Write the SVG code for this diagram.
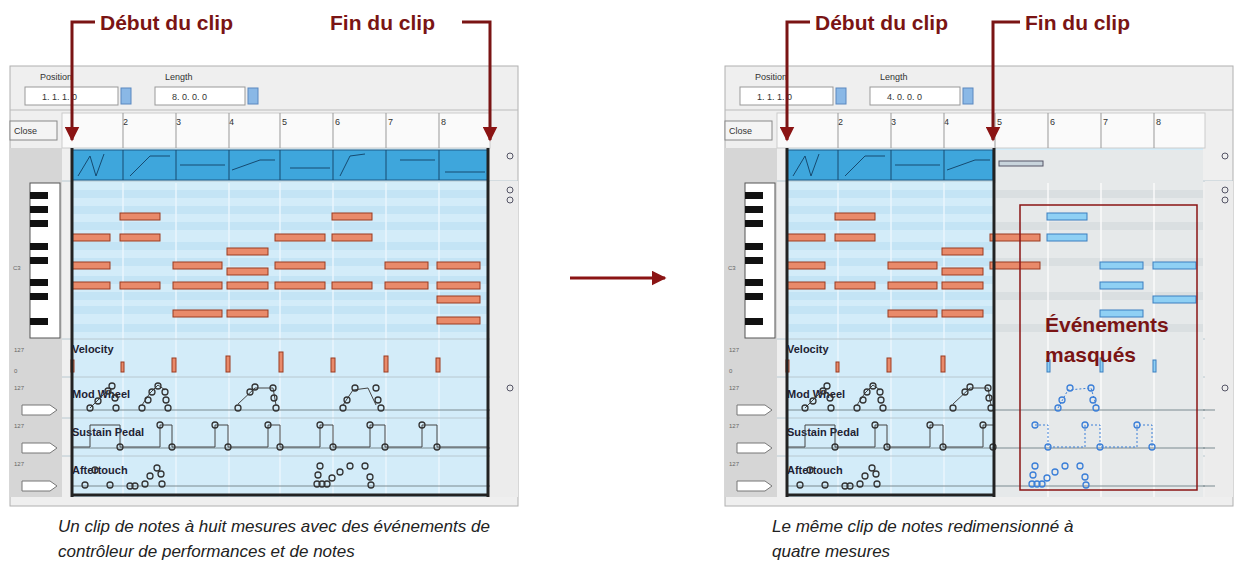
<svg xmlns="http://www.w3.org/2000/svg" width="1243" height="574" viewBox="0 0 1243 574">
<style>
.lbl{font-family:"Liberation Sans",Arial,sans-serif;font-weight:bold;font-size:21px;fill:#7a1414}
.cap{font-family:"Liberation Sans",Arial,sans-serif;font-style:italic;font-size:17px;fill:#222}
.ui{font-family:"Liberation Sans",Arial,sans-serif;font-size:9px;fill:#333}
.lane{font-family:"Liberation Sans",Arial,sans-serif;font-size:11px;fill:#223;font-weight:bold}
.tiny{font-family:"Liberation Sans",Arial,sans-serif;font-size:6px;fill:#666}
.ar{fill:none;stroke:#7a1414;stroke-width:3}
.n{fill:#e98a6a;stroke:#9a3a20;stroke-width:1}
.nb{fill:#8fd0f4;stroke:#3a7fc0;stroke-width:1}
.pt{fill:none;stroke:#333;stroke-width:1.3}
.pb{fill:none;stroke:#3b7fd8;stroke-width:1.3}
.cl{fill:none;stroke:#444;stroke-width:1}
.cb{fill:none;stroke:#3b7fd8;stroke-width:1;stroke-dasharray:2 2}
.edge{stroke:#222;stroke-width:3}
</style>
<defs>
<marker id="ah" viewBox="0 0 10 10" refX="5" refY="10" markerWidth="4" markerHeight="4" orient="auto-start-reverse" markerUnits="strokeWidth"><path d="M0,0 L10,0 L5,10 Z" fill="#7a1414" transform="rotate(-90 5 5)"/></marker>
<marker id="ah2" viewBox="0 0 10 10" refX="9" refY="5" markerWidth="5" markerHeight="5" orient="auto" markerUnits="strokeWidth"><path d="M0,0 L10,5 L0,10 Z" fill="#8b1414"/></marker>
<g id="chrome">
<rect x="10" y="66" width="508" height="440" fill="#efefef" stroke="#b0b0b0"/>
<line x1="10" y1="110" x2="518" y2="110" stroke="#bbb"/>
<rect x="72" y="148" width="416" height="349" fill="#d3ecf9"/>
<g fill="#c4e4f5"><rect x="72" y="190" width="416" height="8"/><rect x="72" y="206" width="416" height="8"/><rect x="72" y="222" width="416" height="8"/><rect x="72" y="242" width="416" height="8"/><rect x="72" y="258" width="416" height="8"/><rect x="72" y="276" width="416" height="8"/><rect x="72" y="292" width="416" height="8"/><rect x="72" y="306" width="416" height="8"/><rect x="72" y="324" width="416" height="8"/></g>
<g stroke="#eaf6fd" stroke-width="1.5"><line x1="123" y1="183" x2="123" y2="497"/><line x1="176" y1="183" x2="176" y2="497"/><line x1="229" y1="183" x2="229" y2="497"/><line x1="280" y1="183" x2="280" y2="497"/><line x1="333" y1="183" x2="333" y2="497"/><line x1="386" y1="183" x2="386" y2="497"/><line x1="439" y1="183" x2="439" y2="497"/></g>
<g stroke="#b8c8d0"><line x1="10" y1="181" x2="518" y2="181"/><line x1="10" y1="339" x2="518" y2="339"/><line x1="10" y1="377" x2="518" y2="377"/><line x1="10" y1="418" x2="500" y2="418"/><line x1="10" y1="456" x2="500" y2="456"/><line x1="72" y1="410" x2="500" y2="410" stroke="#7a8a90"/><line x1="72" y1="448" x2="500" y2="448" stroke="#7a8a90"/><line x1="72" y1="486" x2="500" y2="486" stroke="#7a8a90"/></g>
<rect x="10" y="148" width="52" height="349" fill="#d6d6d6"/>
<rect x="490" y="181" width="28" height="316" fill="#ececec"/>
<rect x="30" y="183" width="30" height="155" fill="#fff" stroke="#555"/>
<g fill="#111"><rect x="30" y="192" width="18" height="7"/><rect x="30" y="206" width="18" height="7"/><rect x="30" y="220" width="18" height="7"/><rect x="30" y="243" width="18" height="7"/><rect x="30" y="257" width="18" height="7"/><rect x="30" y="279" width="18" height="7"/><rect x="30" y="293" width="18" height="7"/><rect x="30" y="318" width="18" height="7"/></g>
<text x="13" y="270" class="tiny">C3</text>
<text x="40" y="80" class="ui">Position</text>
<rect x="25" y="87" width="93" height="18" fill="#fff" stroke="#999"/>
<rect x="121" y="88" width="10" height="16" fill="#8ab8e6" stroke="#5a88c0"/>
<text x="165" y="80" class="ui">Length</text>
<rect x="155" y="87" width="90" height="18" fill="#fff" stroke="#999"/>
<rect x="248" y="88" width="10" height="16" fill="#8ab8e6" stroke="#5a88c0"/>
<rect x="62" y="113" width="428" height="35" fill="#fafafa" stroke="#ccc"/>
<rect x="10" y="121" width="47" height="19" fill="#f4f4f4" stroke="#888"/>
<text x="14" y="134" class="ui" font-size="10">Close</text>
<g class="ui" font-size="8"><text x="123" y="125">2</text><text x="176" y="125">3</text><text x="229" y="125">4</text><text x="282" y="125">5</text><text x="335" y="125">6</text><text x="388" y="125">7</text><text x="441" y="125">8</text></g>
<g stroke="#999"><line x1="123" y1="113" x2="123" y2="148"/><line x1="176" y1="113" x2="176" y2="148"/><line x1="229" y1="113" x2="229" y2="148"/><line x1="280" y1="113" x2="280" y2="148"/><line x1="333" y1="113" x2="333" y2="148"/><line x1="386" y1="113" x2="386" y2="148"/><line x1="439" y1="113" x2="439" y2="148"/></g>
<text x="72" y="353" class="lane">Velocity</text>
<text x="72" y="398" class="lane">Mod Wheel</text>
<text x="72" y="436" class="lane">Sustain Pedal</text>
<text x="72" y="474" class="lane">Aftertouch</text>
<g class="tiny"><text x="14" y="352">127</text><text x="14" y="373">0</text><text x="14" y="390">127</text><text x="14" y="428">127</text><text x="14" y="466">127</text></g>
<g fill="#fff" stroke="#777"><path d="M22,405 H50 L57,410 L50,415 H22 Z"/><path d="M22,443 H50 L57,448 L50,453 H22 Z"/><path d="M22,481 H50 L57,486 L50,491 H22 Z"/></g>
<g fill="none" stroke="#556"><circle cx="510" cy="156" r="3"/><circle cx="510" cy="190" r="3"/><circle cx="510" cy="200" r="3"/><circle cx="510" cy="388" r="3"/></g>
</g>
</defs>

<g id="panel1">
<use href="#chrome"/>
<g class="ui" font-size="10"><text x="42" y="100">1.   1.   1.    0</text><text x="172" y="100">8.  0.  0.    0</text></g>
<rect x="72" y="150" width="416" height="30" fill="#3ea6dc" stroke="#1c5a88"/>
<g stroke="#164a70" fill="none"><path d="M123,150V180M176,150V180M229,150V180M280,150V180M333,150V180M386,150V180M439,150V180"/><path d="M78,176 L90,156 L96,176 L104,154 M130,176 L150,156 L170,156 M180,165 H225 M232,170 L260,160 H275 M290,168 H330 M340,176 L350,156 L365,154 M400,160 H435 M445,172 H485"/></g>
<g class="n"><rect x="120" y="213" width="40" height="7"/><rect x="332" y="213" width="40" height="7"/><rect x="72" y="234" width="38" height="7"/><rect x="120" y="234" width="40" height="7"/><rect x="275" y="234" width="50" height="7"/><rect x="332" y="234" width="40" height="7"/><rect x="227" y="248" width="41" height="7"/><rect x="72" y="262" width="38" height="7"/><rect x="173" y="262" width="49" height="7"/><rect x="275" y="262" width="50" height="7"/><rect x="385" y="262" width="43" height="7"/><rect x="437" y="262" width="43" height="7"/><rect x="227" y="268" width="41" height="7"/><rect x="72" y="282" width="38" height="7"/><rect x="120" y="282" width="40" height="7"/><rect x="173" y="282" width="49" height="7"/><rect x="227" y="282" width="41" height="7"/><rect x="275" y="282" width="50" height="7"/><rect x="332" y="282" width="40" height="7"/><rect x="385" y="282" width="43" height="7"/><rect x="437" y="282" width="43" height="7"/><rect x="437" y="296" width="43" height="7"/><rect x="173" y="310" width="49" height="7"/><rect x="227" y="310" width="41" height="7"/><rect x="437" y="317" width="43" height="7"/></g>
<g class="n"><rect x="71" y="360" width="3" height="12"/><rect x="121" y="362" width="3" height="10"/><rect x="172" y="358" width="4" height="14"/><rect x="226" y="356" width="4" height="16"/><rect x="279" y="352" width="4" height="20"/><rect x="331" y="358" width="4" height="14"/><rect x="384" y="356" width="4" height="16"/><rect x="436" y="358" width="4" height="14"/></g>
<path class="cl" d="M90,408 L98,400 L108,390 L115,395 M142,405 L150,393 L158,385 L165,390 M238,404 L255,388 L273,388 L276,405 M343,405 L353,390 L368,388 L376,405"/>
<g class="pt"><circle cx="90" cy="408" r="3"/><circle cx="98" cy="401" r="3"/><circle cx="108" cy="391" r="3"/><circle cx="112" cy="386" r="3"/><circle cx="115" cy="398" r="3"/><circle cx="116" cy="408" r="3"/><circle cx="142" cy="408" r="3"/><circle cx="148" cy="400" r="3"/><circle cx="152" cy="392" r="3"/><circle cx="158" cy="386" r="3"/><circle cx="165" cy="392" r="3"/><circle cx="166" cy="400" r="3"/><circle cx="168" cy="408" r="3"/><circle cx="238" cy="408" r="3"/><circle cx="250" cy="392" r="3"/><circle cx="255" cy="387" r="3"/><circle cx="273" cy="388" r="3"/><circle cx="274" cy="398" r="3"/><circle cx="276" cy="408" r="3"/><circle cx="343" cy="408" r="3"/><circle cx="347" cy="400" r="3"/><circle cx="355" cy="388" r="3"/><circle cx="376" cy="388" r="3"/><circle cx="378" cy="400" r="3"/><circle cx="381" cy="408" r="3"/></g>
<path class="cl" d="M72,447 H90 V425 H120 V447 H160 V425 H172 V447 H215 V425 H228 V447 H268 V425 H280 V447 H320 V425 H333 V447 H370 V425 H385 V447 H422 V425 H437 V447 H488"/>
<g class="pt"><circle cx="120" cy="447" r="3"/><circle cx="160" cy="425" r="3"/><circle cx="172" cy="447" r="3"/><circle cx="215" cy="425" r="3"/><circle cx="228" cy="447" r="3"/><circle cx="268" cy="425" r="3"/><circle cx="280" cy="447" r="3"/><circle cx="320" cy="425" r="3"/><circle cx="333" cy="447" r="3"/><circle cx="370" cy="425" r="3"/><circle cx="385" cy="447" r="3"/><circle cx="422" cy="425" r="3"/><circle cx="437" cy="447" r="3"/></g>
<g class="pt"><circle cx="85" cy="485" r="3"/><circle cx="95" cy="470" r="3"/><circle cx="110" cy="485" r="3"/><circle cx="130" cy="486" r="3"/><circle cx="135" cy="486" r="3"/><circle cx="145" cy="484" r="3"/><circle cx="150" cy="476" r="3"/><circle cx="157" cy="468" r="3"/><circle cx="161" cy="474" r="3"/><circle cx="162" cy="484" r="3"/><circle cx="317" cy="484" r="3"/><circle cx="322" cy="484" r="3"/><circle cx="327" cy="484" r="3"/><circle cx="318" cy="475" r="3"/><circle cx="320" cy="466" r="3"/><circle cx="332" cy="478" r="3"/><circle cx="340" cy="472" r="3"/><circle cx="350" cy="466" r="3"/><circle cx="365" cy="466" r="3"/><circle cx="370" cy="477" r="3"/><circle cx="371" cy="485" r="3"/></g>
<g class="edge"><line x1="72" y1="148" x2="72" y2="497"/><line x1="488" y1="148" x2="488" y2="497"/><line x1="72" y1="495" x2="488" y2="495"/></g>
</g>

<g id="panel2">
<g transform="translate(715,0)"><use href="#chrome"/></g>
<g class="ui" font-size="10"><text x="757" y="100">1.   1.   1.    0</text><text x="887" y="100">4.  0.  0.    0</text></g>
<rect x="994" y="150" width="209" height="347" fill="#e6e9ea"/>
<g fill="#dadfe1"><rect x="994" y="190" width="209" height="8"/><rect x="994" y="222" width="209" height="8"/><rect x="994" y="258" width="209" height="8"/><rect x="994" y="292" width="209" height="8"/><rect x="994" y="324" width="209" height="8"/></g>
<g stroke="#fafafa" stroke-width="1.5"><path d="M995,183V497M1048,183V497M1101,183V497M1154,183V497"/></g>
<g stroke="#7a8a90"><path d="M994,410H1215M994,448H1215M994,486H1215"/></g>
<rect x="787" y="150" width="206" height="30" fill="#3ea6dc" stroke="#1c5a88"/>
<g stroke="#164a70" fill="none"><path d="M838,150V180M891,150V180M944,150V180"/><path d="M793,176 L805,156 L811,176 L819,154 M845,176 L865,156 L885,156 M895,165 H940 M947,170 L975,160 H990"/></g>
<rect x="999" y="161" width="44" height="5" fill="#c8d4dc" stroke="#556"/>
<g class="n"><rect x="835" y="213" width="40" height="7"/><rect x="787" y="234" width="38" height="7"/><rect x="835" y="234" width="40" height="7"/><rect x="990" y="234" width="50" height="7"/><rect x="942" y="248" width="41" height="7"/><rect x="787" y="262" width="38" height="7"/><rect x="888" y="262" width="49" height="7"/><rect x="990" y="262" width="50" height="7"/><rect x="942" y="268" width="41" height="7"/><rect x="787" y="282" width="38" height="7"/><rect x="835" y="282" width="40" height="7"/><rect x="888" y="282" width="49" height="7"/><rect x="942" y="282" width="41" height="7"/><rect x="888" y="310" width="49" height="7"/><rect x="942" y="310" width="41" height="7"/></g>
<g class="nb"><rect x="1047" y="213" width="40" height="7"/><rect x="1047" y="234" width="40" height="7"/><rect x="1100" y="262" width="43" height="7"/><rect x="1153" y="262" width="43" height="7"/><rect x="1100" y="282" width="43" height="7"/><rect x="1153" y="296" width="43" height="7"/><rect x="1100" y="310" width="43" height="7"/></g>
<g class="n"><rect x="786" y="360" width="3" height="12"/><rect x="836" y="362" width="3" height="10"/><rect x="887" y="358" width="4" height="14"/><rect x="941" y="356" width="4" height="16"/></g>
<g class="nb"><rect x="1047" y="360" width="3" height="12"/><rect x="1100" y="358" width="3" height="14"/><rect x="1153" y="360" width="3" height="12"/></g>
<path class="cl" d="M805,408 L813,400 L823,390 L830,395 M857,405 L865,393 L873,385 L880,390 M953,404 L970,388 L988,388 L991,405"/>
<g class="pt"><circle cx="805" cy="408" r="3"/><circle cx="813" cy="401" r="3"/><circle cx="823" cy="391" r="3"/><circle cx="827" cy="386" r="3"/><circle cx="830" cy="398" r="3"/><circle cx="831" cy="408" r="3"/><circle cx="857" cy="408" r="3"/><circle cx="863" cy="400" r="3"/><circle cx="867" cy="392" r="3"/><circle cx="873" cy="386" r="3"/><circle cx="880" cy="392" r="3"/><circle cx="881" cy="400" r="3"/><circle cx="883" cy="408" r="3"/><circle cx="953" cy="408" r="3"/><circle cx="965" cy="392" r="3"/><circle cx="970" cy="387" r="3"/><circle cx="988" cy="388" r="3"/><circle cx="989" cy="398" r="3"/><circle cx="991" cy="408" r="3"/></g>
<path class="cb" d="M1058,408 L1068,390 L1091,388 L1096,405"/>
<g class="pb"><circle cx="1058" cy="408" r="3"/><circle cx="1062" cy="400" r="3"/><circle cx="1070" cy="388" r="3"/><circle cx="1091" cy="388" r="3"/><circle cx="1093" cy="400" r="3"/><circle cx="1096" cy="408" r="3"/></g>
<path class="cl" d="M787,447 H805 V425 H835 V447 H875 V425 H887 V447 H930 V425 H943 V447 H983 V425 H993"/>
<g class="pt"><circle cx="835" cy="447" r="3"/><circle cx="875" cy="425" r="3"/><circle cx="887" cy="447" r="3"/><circle cx="930" cy="425" r="3"/><circle cx="943" cy="447" r="3"/><circle cx="983" cy="425" r="3"/><circle cx="993" cy="447" r="3"/></g>
<path class="cb" d="M1035,425 H1048 V447 H1085 V425 H1100 V447 H1137 V425 H1152 V447"/>
<g class="pb"><circle cx="1035" cy="425" r="3"/><circle cx="1048" cy="447" r="3"/><circle cx="1085" cy="425" r="3"/><circle cx="1100" cy="447" r="3"/><circle cx="1137" cy="425" r="3"/><circle cx="1152" cy="447" r="3"/></g>
<g class="pt"><circle cx="800" cy="485" r="3"/><circle cx="810" cy="470" r="3"/><circle cx="825" cy="485" r="3"/><circle cx="845" cy="486" r="3"/><circle cx="850" cy="486" r="3"/><circle cx="860" cy="484" r="3"/><circle cx="865" cy="476" r="3"/><circle cx="872" cy="468" r="3"/><circle cx="876" cy="474" r="3"/><circle cx="877" cy="484" r="3"/></g>
<g class="pb"><circle cx="1032" cy="484" r="3"/><circle cx="1037" cy="484" r="3"/><circle cx="1042" cy="484" r="3"/><circle cx="1033" cy="475" r="3"/><circle cx="1035" cy="466" r="3"/><circle cx="1047" cy="478" r="3"/><circle cx="1055" cy="472" r="3"/><circle cx="1065" cy="466" r="3"/><circle cx="1080" cy="466" r="3"/><circle cx="1085" cy="477" r="3"/><circle cx="1086" cy="485" r="3"/></g>
<g class="edge"><line x1="787" y1="148" x2="787" y2="497"/><line x1="994" y1="148" x2="994" y2="497"/><line x1="787" y1="495" x2="994" y2="495"/></g>
<rect x="1020" y="205" width="177" height="285" fill="none" stroke="#8b1414" stroke-width="1.5"/>
<text x="1045" y="332" class="lbl" font-size="20">Événements</text>
<text x="1045" y="362" class="lbl" font-size="20">masqués</text>
</g>

<g id="connectors">
<path class="ar" d="M95,22 H72 V140" marker-end="url(#ah2)"/>
<path class="ar" d="M462,22 H490 V140" marker-end="url(#ah2)"/>
<path class="ar" d="M810,22 H787 V140" marker-end="url(#ah2)"/>
<path class="ar" d="M1020,22 H993 V140" marker-end="url(#ah2)"/>
<path d="M570,278 H665" stroke="#8b1414" stroke-width="3" fill="none" marker-end="url(#ah2)"/>
</g>
<text x="100" y="30" class="lbl">Début du clip</text>
<text x="330" y="30" class="lbl">Fin du clip</text>
<text x="815" y="30" class="lbl">Début du clip</text>
<text x="1025" y="30" class="lbl">Fin du clip</text>
<text x="58" y="532" class="cap">Un clip de notes à huit mesures avec des événements de</text>
<text x="58" y="557" class="cap">contrôleur de performances et de notes</text>
<text x="772" y="532" class="cap">Le même clip de notes redimensionné à</text>
<text x="772" y="557" class="cap">quatre mesures</text>
</svg>
